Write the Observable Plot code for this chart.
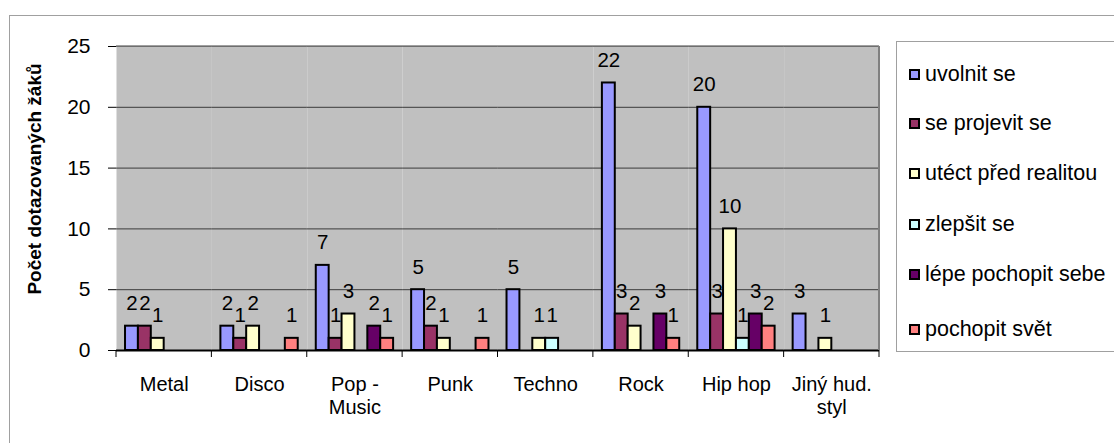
<!DOCTYPE html>
<html>
<head>
<meta charset="utf-8">
<script src="https://cdn.jsdelivr.net/npm/d3@7"></script>
<script src="https://cdn.jsdelivr.net/npm/@observablehq/plot@0.6"></script>
<style>
  html, body { margin: 0; padding: 0; background: #fff; overflow: hidden; }
  #wrap { position: relative; width: 1114px; height: 443px; overflow: hidden; font-family: "Liberation Sans", Arial, sans-serif; }
  #outer { position: absolute; left: 9px; top: 15px; width: 1300px; height: 700px; border: 1.5px solid #a0a0a0; box-sizing: border-box; }
  #chart { position: absolute; left: 0; top: 0; }
  #ylabel { position: absolute; left: 35px; top: 179px; transform: translate(-50%, -50%) rotate(-90deg); white-space: nowrap; font-weight: bold; font-size: 19px; color: #000; }
  #legend { position: absolute; left: 896px; top: 41px; width: 400px; height: 311px; border: 1.5px solid #a0a0a0; box-sizing: border-box; background: #fff; }
  .item { position: absolute; left: 12px; height: 24px; display: flex; align-items: center; font-size: 21.5px; color: #000; white-space: nowrap; }
  .sw { width: 11px; height: 11px; border: 2px solid #000; box-sizing: border-box; margin-right: 5px; }
</style>
</head>
<body>
<div id="wrap">
  <div id="outer"></div>
  <div id="chart"></div>
  <div id="ylabel">Počet dotazovaných žáků</div>
  <div id="legend"></div>
</div>
<script>
// ---- data ----
const categories = ["Metal", "Disco", "Pop - Music", "Punk", "Techno", "Rock", "Hip hop", "Jiný hud. styl"];
const categoryLabels = ["Metal", "Disco", "Pop -\nMusic", "Punk", "Techno", "Rock", "Hip hop", "Jiný hud.\nstyl"];
const series = ["uvolnit se", "se projevit se", "utéct před realitou", "zlepšit se", "lépe pochopit sebe", "pochopit svět"];
const colors = ["#9999FF", "#993366", "#FFFFCC", "#CCFFFF", "#660066", "#FF8080"];
const uvolnitSe     = [2, 2, 7, 5, 5, 22, 20, 3];
const seProjevitSe  = [2, 1, 1, 2, null, 3, 3, null];
const utectPred     = [1, 2, 3, 1, 1, 2, 10, 1];
const zlepsitSe     = [null, null, null, null, 1, null, 1, null];
const pochopitSebe  = [null, null, 2, null, null, 3, 3, null];
const pochopitSvet  = [null, 1, 1, 1, null, 1, 2, null];
const yTicks = [0, 5, 10, 15, 20, 25];

const seriesValues = [uvolnitSe, seProjevitSe, utectPred, zlepsitSe, pochopitSebe, pochopitSvet];
const rows = [];
categories.forEach((c, ci) => {
  series.forEach((s, si) => {
    const v = seriesValues[si][ci];
    if (v != null) rows.push({category: c, series: s, value: v});
  });
});
const labelOf = new Map(categories.map((c, i) => [c, categoryLabels[i]]));

const chart = Plot.plot({
  width: 1114,
  height: 443,
  marginLeft: 116,
  marginRight: 235,
  marginTop: 46,
  marginBottom: 93,
  style: {fontFamily: "'Liberation Sans', Arial, sans-serif", fontSize: "20px", background: "transparent", color: "#000"},
  fx: {domain: categories, padding: 0, round: false, label: null},
  x: {domain: series, paddingInner: 0, paddingOuter: 0.7, round: false, axis: null},
  y: {domain: [0, 25], label: null},
  color: {domain: series, range: colors},
  marks: [
    Plot.frame({fill: "#C0C0C0", stroke: "none"}),
    Plot.gridY(yTicks, {stroke: "#3a3a3a", strokeOpacity: 1, strokeWidth: 1}),
    Plot.barY(rows, {fx: "category", x: "series", y: "value", fill: "series", stroke: "#000", strokeWidth: 2}),
    Plot.text(rows, {fx: "category", x: "series", y: "value", text: d => String(d.value), lineAnchor: "bottom", dy: -16, fontSize: 20.5, fill: "#000"}),
    Plot.ruleY([0], {stroke: "#000", strokeWidth: 2}),
    Plot.axisY(yTicks, {anchor: "left", tickSize: 8, tickPadding: 18, fontSize: 21, label: null, line: true}),
    Plot.axisFx({anchor: "bottom", tickSize: 0, tickPadding: 25, fontSize: 20, lineHeight: 1.12, label: null, tickFormat: c => labelOf.get(c)})
  ]
});
document.getElementById("chart").appendChild(chart);

// category boundary ticks and plot-area right/top edge, placed with the fx and y scales
const fx = chart.scale("fx");
const yS = chart.scale("y");
const starts = categories.map(c => fx.apply(c));
const bounds = starts.concat([starts[starts.length - 1] + fx.bandwidth]);
const svg = d3.select(chart);
const y0 = yS.apply(0), yTop = yS.apply(25);
svg.append("g").selectAll("line").data(bounds).join("line")
  .attr("x1", d => d).attr("x2", d => d)
  .attr("y1", y0).attr("y2", y0 + 7)
  .attr("stroke", "#000").attr("stroke-width", 1);
svg.append("line")
  .attr("x1", bounds[bounds.length - 1]).attr("x2", bounds[bounds.length - 1])
  .attr("y1", yTop).attr("y2", y0)
  .attr("stroke", "#808080").attr("stroke-width", 2);
svg.append("line")
  .attr("x1", bounds[0]).attr("x2", bounds[bounds.length - 1])
  .attr("y1", yTop).attr("y2", yTop)
  .attr("stroke", "#808080").attr("stroke-width", 1.5);

// legend
const legend = document.getElementById("legend");
const legendTops = [20, 69, 119, 170, 220, 275];
series.forEach((s, i) => {
  const it = document.createElement("div");
  it.className = "item";
  it.style.top = legendTops[i] + "px";
  const sw = document.createElement("span");
  sw.className = "sw";
  sw.style.background = colors[i];
  it.appendChild(sw);
  it.appendChild(document.createTextNode(s));
  legend.appendChild(it);
});
</script>
</body>
</html>
